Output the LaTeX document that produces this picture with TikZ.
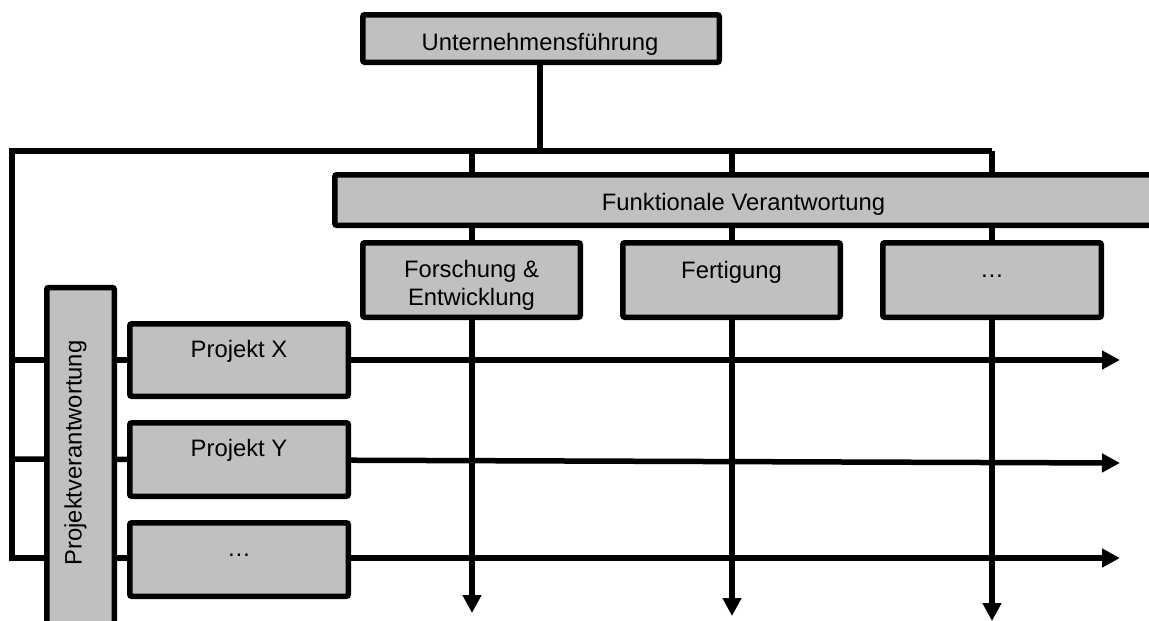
\documentclass[tikz,border=0pt]{standalone}
\usepackage{fontspec}
\setmainfont{Liberation Sans}
\usetikzlibrary{arrows.meta}
\pgfdeclarelayer{background}
\pgfsetlayers{background,main}
\definecolor{boxgray}{RGB}{192,192,192}
\tikzset{
  box/.style={draw=black, fill=boxgray, line width=5.5pt, rounded corners=2pt,
              inner sep=0pt, outer sep=0pt},
  lbl/.style={inner sep=0pt, anchor=base, font=\fontsize{23.8}{28}\selectfont},
  tree/.style={line width=6.5pt, line cap=rect, line join=miter},
  flow/.style={line width=5.5pt, -{Triangle[length=18pt,width=18pt]}},
  link/.style={line width=5.5pt}
}
\begin{document}
\begin{tikzpicture}[x=1pt, y=-1pt]
\useasboundingbox (0,0) rectangle (1149,621);

% management box
\node[box, minimum width=356.5pt, minimum height=47.5pt] (u) at (541,38.5) {};
\node[lbl] (ut) at (540,50) {Unternehmensführung};

% functional responsibility
\node[box, minimum width=818.5pt, minimum height=50.5pt] (fv) at (744,200) {};
\node[lbl] (fvt) at (743.5,210) {Funktionale Verantwortung};

\node[box, minimum width=217.5pt, minimum height=74.5pt] (fe) at (471.5,280) {};
\node[lbl] (fet1) at (471.5,277) {Forschung \&};
\node[lbl] (fet2) at (471.5,305) {Entwicklung};

\node[box, minimum width=217.5pt, minimum height=74.5pt] (fg) at (731.5,280) {};
\node[lbl] (fgt) at (731.5,278) {Fertigung};

\node[box, minimum width=218.5pt, minimum height=74.5pt] (fd) at (992,280) {};
\node[lbl] (fdt) at (992,277) {…};

% project responsibility
\node[box, minimum width=67.5pt, minimum height=340pt] (pv) at (80.5,457.5) {};
\node[lbl, rotate=90] (pvt) at (81.7,453) {Projektverantwortung};

\node[box, minimum width=218.5pt, minimum height=72.5pt] (px) at (239,360) {};
\node[lbl] (pxt) at (239,357) {Projekt X};

\node[box, minimum width=218.5pt, minimum height=73.5pt] (py) at (239,459.5) {};
\node[lbl] (pyt) at (239,456) {Projekt Y};

\node[box, minimum width=218.5pt, minimum height=73.5pt] (pd) at (239,559.5) {};
\node[lbl] (pdt) at (239,556) {…};

% connector end points
\coordinate (j)  at (540,151);
\coordinate (tl) at (12,151);
\coordinate (bl) at (12,558);
\coordinate (tr) at (992,151);
\coordinate (fe-end) at (472,613);
\coordinate (fg-end) at (732,616);
\coordinate (fd-end) at (992,621);
\coordinate (px-start) at (12,360);
\coordinate (px-end)   at (1120,360);
\coordinate (py-start) at (12,459);
\coordinate (py-end)   at (1120,463);
\coordinate (pd-start) at (12,558);
\coordinate (pd-end)   at (1120,558);

\begin{pgfonlayer}{background}
  \draw[link] (j |- u.south) -- (j);
  \draw[tree] (j) -- (tl) -- (bl);
  \draw[link] (j) -- (tr);
  \draw[flow] (fe-end |- j) -- (fe-end);
  \draw[flow] (fg-end |- j) -- (fg-end);
  \draw[flow] (tr) -- (fd-end);
  \draw[flow] (px-start) -- (px-end);
  \draw[flow] (py-start) -- (py-end);
  \draw[flow] (pd-start) -- (pd-end);
\end{pgfonlayer}
\end{tikzpicture}
\end{document}
